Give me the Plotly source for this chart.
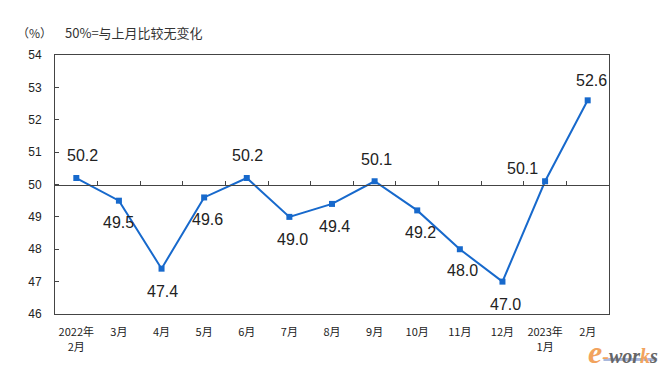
import plotly.graph_objects as go

months = ["2022年<br>2月", "3月", "4月", "5月", "6月", "7月", "8月", "9月",
          "10月", "11月", "12月", "2023年<br>1月", "2月"]
pmi = [50.2, 49.5, 47.4, 49.6, 50.2, 49.0, 49.4, 50.1, 49.2, 48.0, 47.0, 50.1, 52.6]
y_ticks = [46, 47, 48, 49, 50, 51, 52, 53, 54]
# label offsets (xshift, yshift) in px
label_shift = [(6, 23), (0, -22), (1, -23), (3, -22), (1, 23), (3, -23), (2, -23),
               (2, 22), (3, -22), (3, -21), (3, -23), (-23, 13), (4, 20)]

xs = list(range(len(months)))
fig = go.Figure()
fig.add_trace(go.Scatter(
    x=xs, y=pmi, mode="lines+markers",
    line=dict(color="#1769CC", width=2),
    marker=dict(symbol="square", size=6, color="#1769CC"),
    hoverinfo="skip", showlegend=False))
# helper trace for the mid axis at 50
fig.add_trace(go.Scatter(x=[xs[0]], y=[50], xaxis="x2", mode="markers",
                         marker=dict(opacity=0), hoverinfo="skip", showlegend=False))

for i, (x, v) in enumerate(zip(xs, pmi)):
    dx, dy = label_shift[i]
    fig.add_annotation(x=x, y=v, text=f"{v:.1f}", showarrow=False,
                       xshift=dx, yshift=dy,
                       font=dict(family="Liberation Sans, Arial", size=16, color="#222"))

fig.add_annotation(xref="paper", yref="paper", x=-0.072, y=1.085, xanchor="left", yanchor="middle",
                   text="（%）", showarrow=False,
                   font=dict(family="Noto Sans CJK SC", size=12, color="#333"))
fig.add_annotation(xref="paper", yref="paper", x=0.015, y=1.085, xanchor="left", yanchor="middle",
                   text="50%=与上月比较无变化", showarrow=False,
                   font=dict(family="Noto Sans CJK SC", size=13, color="#333"))

# watermark logo
orange = "#F2A35E"
logo = (f"<span style='font-size:32px;color:{orange}'>e</span>"
        f"<span style='color:{orange}'>-</span>"
        "<span style='color:#666'>wor</span>"
        f"<span style='color:{orange}'>k</span>"
        "<span style='color:#666'>s</span>")
fig.add_annotation(xref="paper", yref="paper", x=1.092, y=-0.145, xanchor="right", yanchor="middle",
                   text=f"<b><i>{logo}</i></b>", showarrow=False,
                   font=dict(family="Liberation Serif", size=20, color="#666"))
fig.add_shape(type="line", xref="paper", yref="paper", x0=0.99, x1=1.087, y0=-0.176, y1=-0.176,
              line=dict(color="#A9B8DC", width=3))

fig.update_layout(
    width=669, height=373,
    margin=dict(l=47, r=68, t=47, b=67),
    paper_bgcolor="white", plot_bgcolor="white",
    xaxis=dict(range=[-0.5, len(months) - 0.5], tickvals=xs, ticktext=months,
               showgrid=False, zeroline=False, showline=True, mirror=True,
               linecolor="#444", linewidth=1, ticks="", ticklabelstandoff=8,
               tickfont=dict(family="Noto Sans CJK SC", size=11, color="#222")),
    xaxis2=dict(range=[-0.5, len(months) - 0.5], overlaying="x", anchor="free",
                position=0.5, showline=True, linecolor="#444", linewidth=1,
                ticks="inside", ticklen=4, tickcolor="#444",
                tickvals=[x + 0.5 for x in xs[:-1]], showticklabels=False,
                showgrid=False, zeroline=False),
    yaxis=dict(range=[46, 54], tickvals=y_ticks, showgrid=False, zeroline=False,
               showline=True, mirror=True, linecolor="#444", linewidth=1,
               ticks="inside", ticklen=4, tickcolor="#444", ticklabelstandoff=10,
               tickfont=dict(family="Liberation Sans, Arial", size=12, color="#222")),
)

fig.write_html("out.html")
